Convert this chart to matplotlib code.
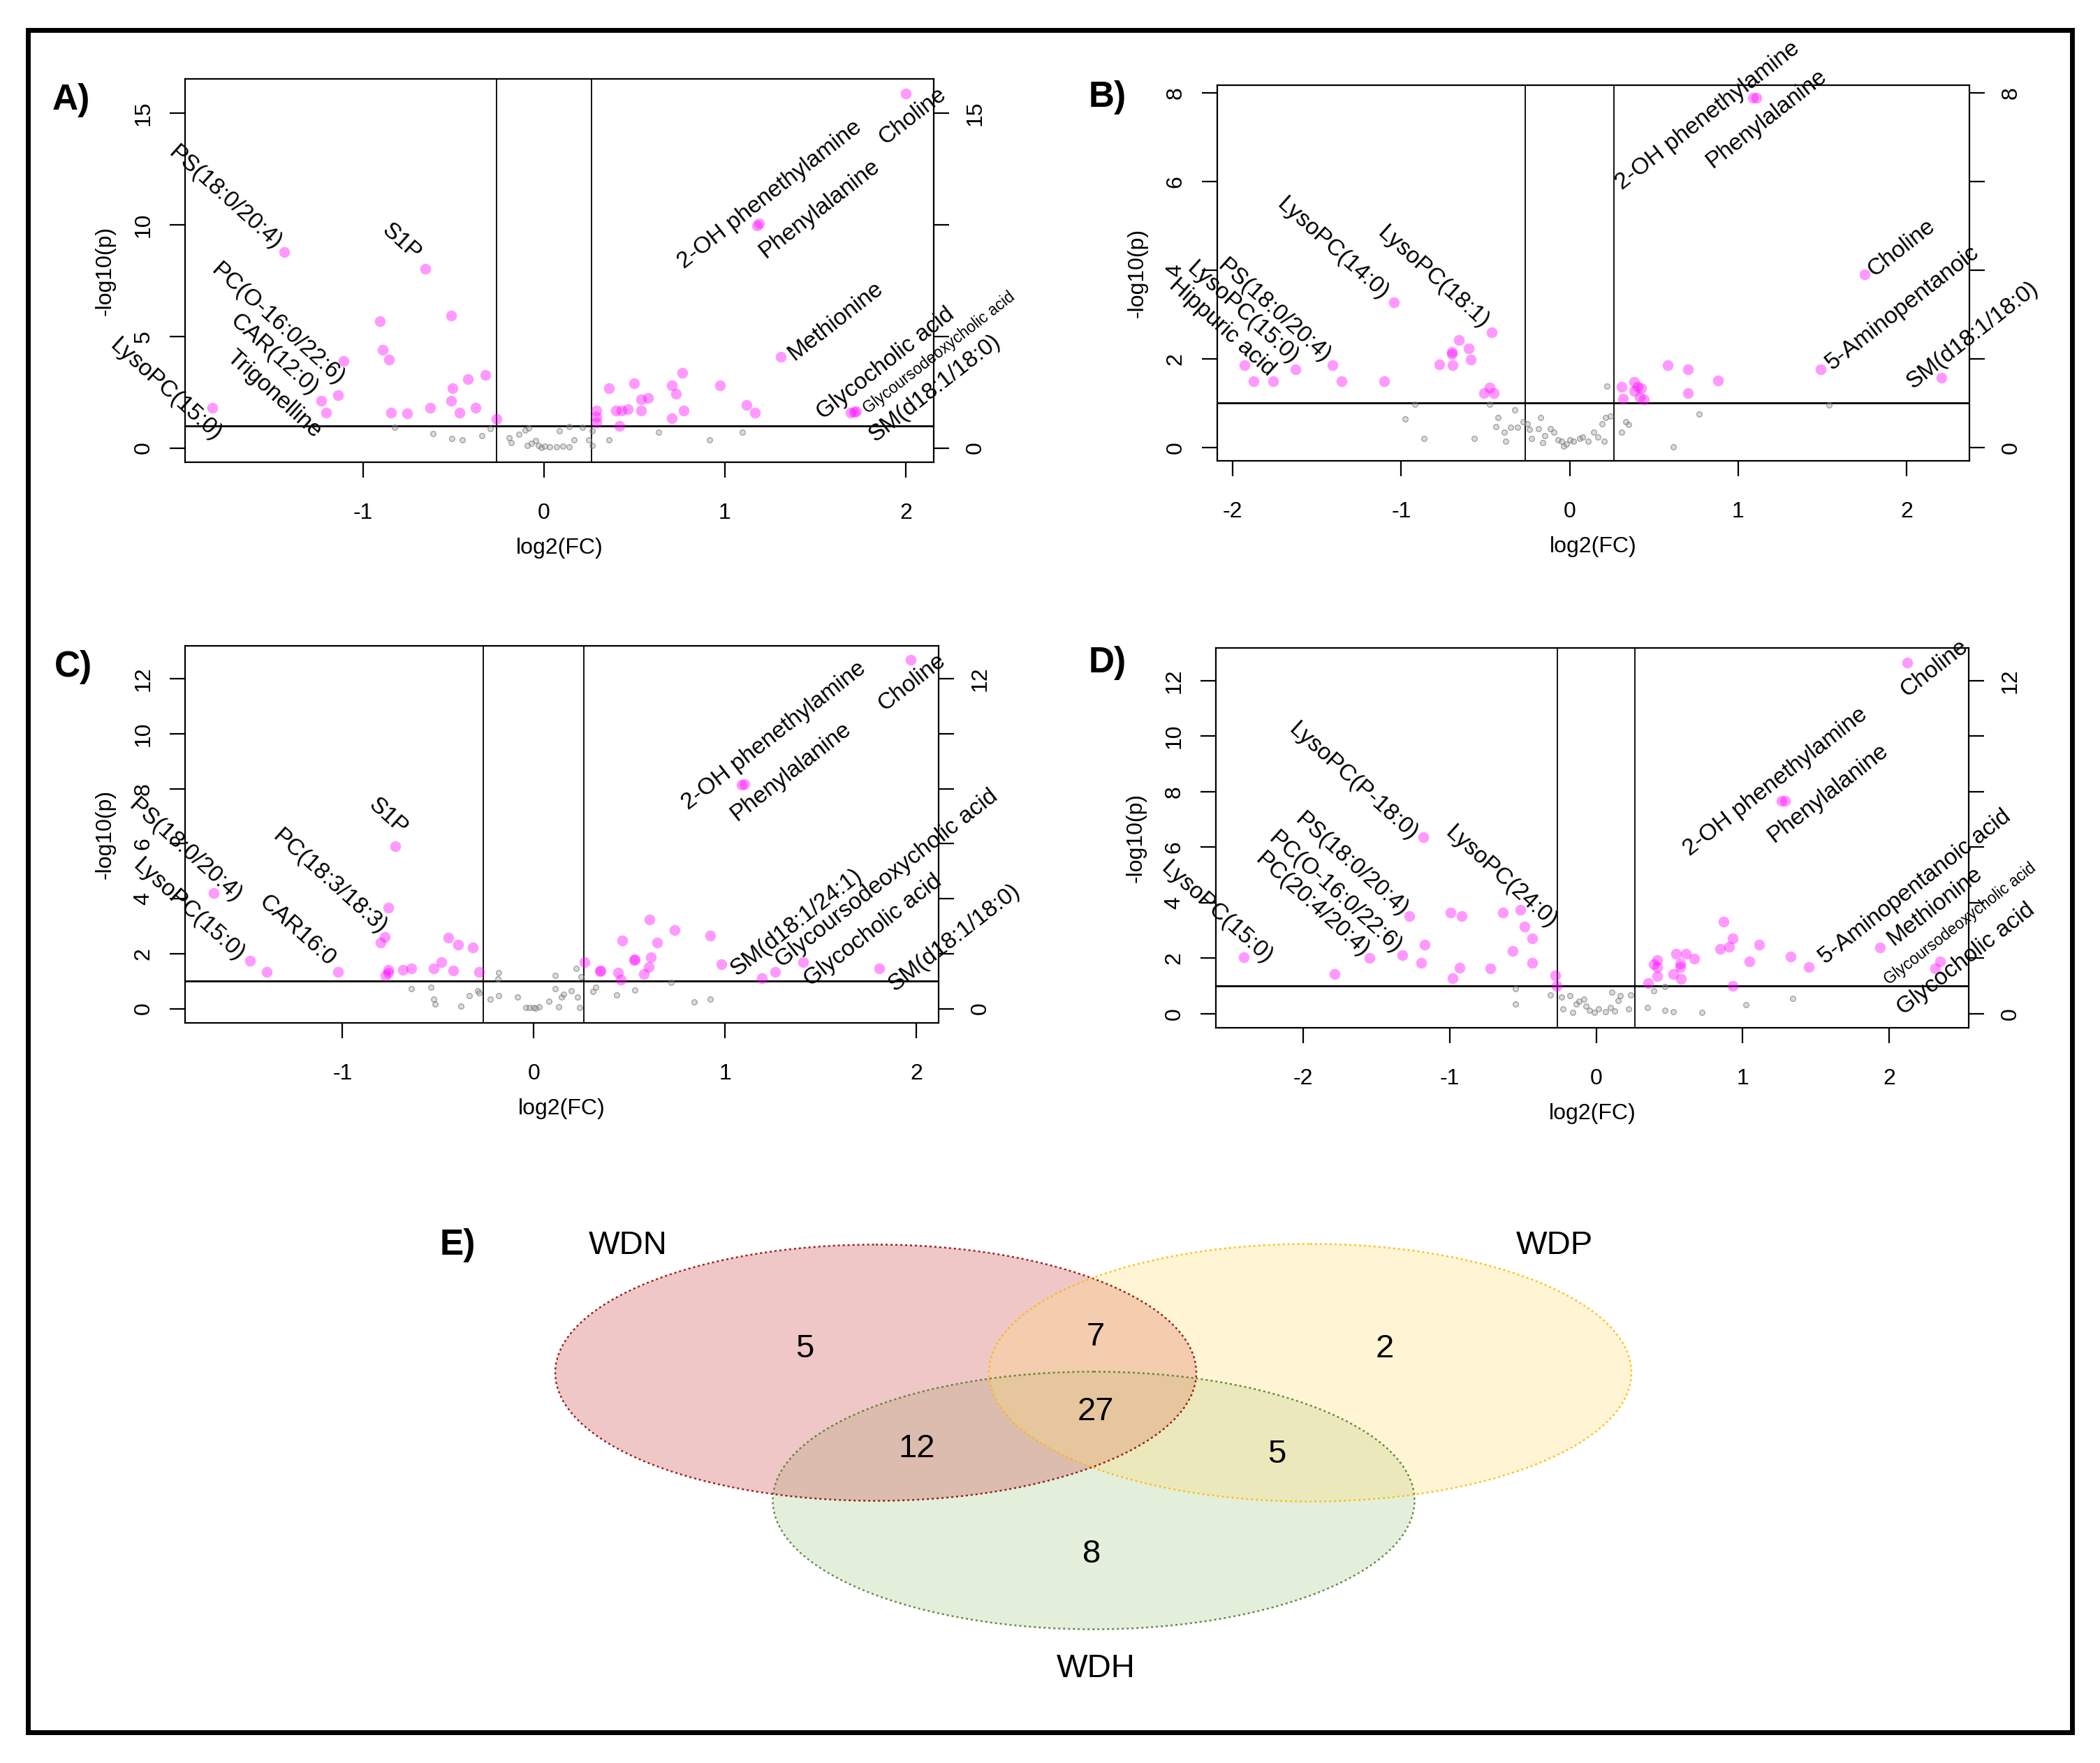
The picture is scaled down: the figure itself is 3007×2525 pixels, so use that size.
import matplotlib
matplotlib.use("Agg")
import matplotlib.pyplot as plt
from matplotlib.patches import Ellipse, Rectangle
import numpy as np

plt.rcParams['font.family'] = ['Liberation Sans', 'DejaVu Sans']

# ---------------- DATA ----------------
# Panel A
A_sig_x = [2.0, -1.435, -0.658, 1.177, 1.19, -0.909, -0.515, -0.891, -0.859, -1.109, 1.309, -0.326,
           -0.422, -0.504, -1.138, -1.231, -0.515, -0.63, -0.379, -0.469, -0.844, -0.755, -1.206,
           -1.835, -0.261, 0.766, 0.5, 0.358, 0.705, 0.73, 0.973, 0.537, 0.576, 0.465, 0.429, 0.397,
           0.537, 0.773, 0.29, 0.29, 0.29, 0.419, 0.705, 1.12, 1.166, 1.696, 1.728, 1.715]
A_sig_y = [15.87, 8.77, 8.04, 9.98, 10.06, 5.68, 5.94, 4.40, 3.97, 3.90, 4.08, 3.26,
           3.09, 2.68, 2.37, 2.12, 2.12, 1.81, 1.81, 1.57, 1.57, 1.54, 1.57,
           1.81, 1.31, 3.36, 2.91, 2.68, 2.79, 2.42, 2.79, 2.19, 2.24, 1.74, 1.69, 1.69,
           1.69, 1.69, 1.69, 1.39, 1.13, 1.0, 1.34, 1.92, 1.57, 1.57, 1.64, 1.60]
A_ns_x = [-0.826, -0.615, -0.508, -0.45, -0.343, -0.297, -0.193, -0.18, -0.14, -0.104, -0.086,
          -0.093, -0.046, -0.032, -0.014, 0.004, 0.032, 0.068, 0.104, 0.14, 0.086, 0.14, 0.165,
          0.211, 0.247, 0.265, 0.265, 0.361, 0.633, 0.916, 1.098, -0.068]
A_ns_y = [0.93, 0.65, 0.43, 0.37, 0.55, 0.85, 0.44, 0.24, 0.6, 0.81, 0.88,
          0.12, 0.32, 0.12, 0.02, 0.09, 0.06, 0.06, 0.09, 0.06, 0.78, 0.95, 0.37,
          0.93, 0.37, 0.12, 0.78, 0.37, 0.7, 0.37, 0.7, 0.21]
A_labels = ["PS(18:0/20:4)", "S1P", "PC(O-16:0/22:6)", "CAR(12:0)", "Trigonelline", "LysoPC(15:0)",
            "2-OH phenethylamine", "Phenylalanine", "Choline", "Methionine", "Glycocholic acid",
            "Glycoursodeoxycholic acid", "SM(d18:1/18:0)"]

# Panel B
B_sig_x = [1.086, 1.106, 1.75, -1.044, -0.464, -0.656, -0.599, -0.699, -0.699, -0.587, -0.775, -0.695,
           -1.931, -1.409, -1.628, -1.877, -1.762, -1.355, -1.102, -0.476, -0.507, -0.449,
           0.583, 0.702, 0.879, 0.702, 0.384, 0.307, 0.403, 0.422, 0.384, 0.315, 0.415, 0.441,
           1.489, 2.207]
B_sig_y = [7.89, 7.89, 3.90, 3.28, 2.59, 2.42, 2.24, 2.15, 2.11, 1.98, 1.87, 1.86,
           1.86, 1.86, 1.77, 1.50, 1.50, 1.50, 1.50, 1.35, 1.22, 1.22,
           1.86, 1.77, 1.51, 1.22, 1.48, 1.37, 1.37, 1.33, 1.27, 1.10, 1.14, 1.08,
           1.77, 1.58]
B_ns_x = [-0.921, -0.975, -0.864, -0.568, -0.476, -0.426, -0.438, -0.388, -0.38, -0.353, -0.326,
          -0.311, -0.276, -0.25, -0.226, -0.238, -0.184, -0.173, -0.161, -0.146, -0.115, -0.096,
          -0.069, -0.05, -0.038, -0.019, 0.0, 0.023, 0.058, 0.077, 0.107, 0.142, 0.165, 0.203,
          0.192, 0.211, 0.219, 0.242, 0.307, 0.334, 0.349, 0.614, 0.768, 1.539]
B_ns_y = [0.98, 0.64, 0.21, 0.21, 0.98, 0.67, 0.47, 0.35, 0.14, 0.45, 0.85,
          0.45, 0.58, 0.54, 0.21, 0.41, 0.43, 0.67, 0.11, 0.26, 0.43, 0.35,
          0.18, 0.14, 0.03, 0.08, 0.18, 0.14, 0.21, 0.24, 0.14, 0.35, 0.24, 0.14,
          0.54, 0.67, 1.38, 0.70, 0.34, 0.58, 0.52, 0.02, 0.75, 0.96]
B_labels = ["Hippuric acid", "LysoPC(15:0)", "PS(18:0/20:4)", "LysoPC(14:0)", "LysoPC(18:1)",
            "2-OH phenethylamine", "Phenylalanine", "Choline", "5-Aminopentanoic", "SM(d18:1/18:0)"]

# Panel C
C_sig_x = [1.972, 1.086, 1.102, -0.724, -1.674, -0.761, -0.778, -0.801, -1.485, -1.397, -1.025,
           -0.761, -0.761, -0.775, -0.683, -0.639, -0.524, -0.484, -0.419, -0.446, -0.396, -0.318,
           -0.284, 0.267, 0.345, 0.35, 0.44, 0.457, 0.463, 0.524, 0.53, 0.575, 0.602, 0.612, 0.605,
           0.646, 0.737, 0.923, 0.981, 1.194, 1.261, 1.407, 1.806]
C_sig_y = [12.68, 8.14, 8.18, 5.90, 4.21, 3.68, 2.60, 2.41, 1.73, 1.33, 1.33,
           1.42, 1.31, 1.21, 1.42, 1.46, 1.46, 1.70, 1.39, 2.57, 2.32, 2.23,
           1.33, 1.70, 1.36, 1.39, 1.31, 1.06, 2.48, 1.76, 1.80, 1.25, 1.52, 1.86, 3.24,
           2.41, 2.87, 2.65, 1.62, 1.11, 1.33, 1.70, 1.46]
C_ns_x = [-0.639, -0.538, -0.524, -0.514, -0.379, -0.338, -0.294, -0.284, -0.227, -0.183, -0.186,
          -0.183, -0.085, -0.04, -0.024, 0.0, 0.027, 0.078, 0.112, 0.112, 0.129, 0.145, 0.156,
          0.196, 0.223, 0.23, 0.24, 0.247, 0.308, 0.325, 0.433, 0.528, 0.72, 0.839, 0.923, 0.01]
C_ns_y = [0.72, 0.78, 0.35, 0.16, 0.10, 0.47, 0.65, 0.56, 0.35, 1.30, 1.09,
          0.47, 0.41, 0.04, 0.04, 0.04, 0.06, 0.28, 0.72, 1.21, 0.06, 0.43, 0.53,
          0.65, 1.46, 0.43, 0.04, 1.15, 0.63, 0.78, 0.49, 0.68, 0.96, 0.25, 0.35, 0.02]
C_labels = ["S1P", "PS(18:0/20:4)", "LysoPC(15:0)", "PC(18:3/18:3)", "CAR16:0",
            "2-OH phenethylamine", "Phenylalanine", "Choline", "SM(d18:1/24:1)",
            "Glycoursodeoxycholic acid", "Glycocholic acid", "SM(d18:1/18:0)"]

# Panel D
D_sig_x = [2.124, 1.267, 1.289, -1.179, -1.276, -0.993, -0.918, -0.636, -0.517, -0.49, -0.437,
           -0.57, -0.437, -1.17, -1.325, -1.545, -1.196, -2.406, -1.784, -0.932, -0.98, -0.724,
           -0.278, -0.269, 0.87, 0.932, 0.91, 0.848, 1.113, 1.325, 1.046, 1.453, 0.932, 0.547,
           0.614, 0.671, 0.415, 0.393, 0.415, 0.574, 0.574, 0.525, 0.578, 0.419, 0.353, 1.938,
           2.313, 2.349]
D_sig_y = [12.65, 7.67, 7.67, 6.35, 3.52, 3.64, 3.52, 3.64, 3.74, 3.13, 2.70,
           2.27, 1.83, 2.48, 2.11, 2.01, 1.83, 2.03, 1.42, 1.65, 1.28, 1.62,
           1.38, 1.01, 3.31, 2.72, 2.42, 2.33, 2.48, 2.05, 1.87, 1.68, 1.0, 2.17,
           2.17, 1.99, 1.93, 1.77, 1.68, 1.81, 1.68, 1.44, 1.26, 1.34, 1.11, 2.38,
           1.62, 1.87]
D_ns_x = [-0.552, -0.552, -0.313, -0.234, -0.181, -0.225, -0.159, -0.137, -0.115, -0.084, -0.071,
          -0.044, -0.013, 0.018, 0.062, 0.097, 0.106, 0.128, 0.15, 0.163, 0.221, 0.238, 0.349,
          0.393, 0.468, 0.468, 0.525, 0.724, 1.02, 1.342]
D_ns_y = [0.89, 0.34, 0.68, 0.59, 0.65, 0.16, 0.04, 0.34, 0.44, 0.52, 0.28,
          0.12, 0.04, 0.16, 0.07, 0.22, 0.77, 0.10, 0.46, 0.65, 0.16, 0.68, 0.22,
          0.83, 0.97, 0.12, 0.07, 0.04, 0.32, 0.55]
D_labels = ["LysoPC(P-18:0)", "PS(18:0/20:4)", "PC(O-16:0/22:6)", "PC(20:4/20:4)", "LysoPC(15:0)",
            "LysoPC(24:0)", "Choline", "2-OH phenethylamine", "Phenylalanine",
            "5-Aminopentanoic acid", "Methionine", "Glycoursodeoxycholic acid", "Glycocholic acid"]

# Venn (E)
venn_sets = ["WDN", "WDP", "WDH"]
venn_counts = {"N": 5, "P": 2, "H": 8, "NP": 7, "NH": 12, "PH": 5, "NPH": 27}

# ---------------- LAYOUT / STYLE ----------------
W, H = 3007, 2525
DPI = 100
fig = plt.figure(figsize=(W / DPI, H / DPI), dpi=DPI)

bg = fig.add_axes([0, 0, 1, 1])
bg.set_xlim(0, W)
bg.set_ylim(H, 0)
bg.axis('off')
bg.add_patch(Rectangle((40.5, 43), 2967 - 40.5, 2481 - 43, fill=False, lw=5.0, ec='black'))

# label layout: anchor (data coords) for each label, side (L: rotated down, R: rotated up), size factor
A_lab_pos = [(-1.47, 9.07, 'L', 1), (-0.70, 8.58, 'L', 1), (-1.123, 2.98, 'L', 1), (-1.266, 2.53, 'L', 1),
             (-1.249, 0.62, 'L', 1), (-1.803, 0.47, 'L', 1),
             (0.755, 8.23, 'R', 1), (1.202, 8.69, 'R', 1), (1.864, 13.79, 'R', 1), (1.363, 4.12, 'R', 1),
             (1.524, 1.46, 'R', 1), (1.775, 1.69, 'R', 0.68), (1.81, 0.47, 'R', 1)]
B_lab_pos = [(-1.766, 1.69, 'L', 1), (-1.631, 1.96, 'L', 1), (-1.44, 2.0, 'L', 1), (-1.094, 3.41, 'L', 1),
             (-0.499, 2.76, 'L', 1),
             (0.288, 5.90, 'R', 1), (0.825, 6.39, 'R', 1), (1.785, 3.95, 'R', 1), (1.536, 1.84, 'R', 1),
             (2.015, 1.42, 'R', 1)]
C_lab_pos = [(-0.676, 6.45, 'L', 1), (-1.545, 4.01, 'L', 1), (-1.529, 1.86, 'L', 1), (-0.785, 2.85, 'L', 1),
             (-1.055, 1.68, 'L', 1),
             (0.788, 7.38, 'R', 1), (1.042, 6.97, 'R', 1), (1.813, 10.99, 'R', 1), (1.042, 1.33, 'R', 1),
             (1.278, 1.64, 'R', 1), (1.43, 0.96, 'R', 1), (1.87, 0.78, 'R', 1)]
D_lab_pos = [(-1.24, 6.38, 'L', 1), (-1.307, 3.64, 'L', 1), (-1.351, 2.29, 'L', 1), (-1.572, 2.17, 'L', 1),
             (-2.234, 1.93, 'L', 1), (-0.291, 3.21, 'L', 1),
             (2.093, 11.57, 'R', 1), (0.614, 5.83, 'R', 1), (1.188, 6.32, 'R', 1), (1.541, 1.93, 'R', 1),
             (2.004, 2.60, 'R', 1), (1.982, 1.14, 'R', 0.68), (2.071, 0.10, 'R', 1)]

TICK_FS = 23
LAB_FS = 24
PINK = (1.0, 0.0, 1.0, 0.40)


def pix_rect(x0, y0, x1, y1):
    return [x0 / W, 1 - y1 / H, (x1 - x0) / W, (y1 - y0) / H]


def volcano(rect, sx, sy, nx, ny, labels, labpos, xticks, yticks, xlim, ylim, letter, letter_xy):
    ax = fig.add_axes(pix_rect(*rect))
    ax.set_xlim(*xlim)
    ax.set_ylim(*ylim)
    ax.scatter(nx, ny, s=30, facecolor=(0.6, 0.6, 0.6, 0.35), edgecolor=(0.45, 0.45, 0.45, 0.6),
               linewidths=1.0, zorder=2)
    ax.scatter(sx, sy, s=125, color=PINK, linewidths=0, zorder=3)
    ax.axvline(-np.log2(1.2), color='black', lw=1.3, zorder=1)
    ax.axvline(np.log2(1.2), color='black', lw=1.3, zorder=1)
    ax.axhline(-np.log10(0.1), color='black', lw=2.0, zorder=1)
    for sp in ax.spines.values():
        sp.set_linewidth(1.6)
    ax.set_xticks(xticks)
    ax.set_xticklabels([str(t) for t in xticks], fontsize=TICK_FS)
    ax.set_yticks(yticks)
    ax.set_yticklabels([str(t) for t in yticks], fontsize=TICK_FS, rotation=90, va='center')
    ax.tick_params(axis='x', length=16, width=1.6, pad=26)
    ax.tick_params(axis='y', length=16, width=1.6, pad=16)
    ax.set_xlabel('log2(FC)', fontsize=TICK_FS, labelpad=14)
    ax.set_ylabel('-log10(p)', fontsize=TICK_FS, labelpad=18)
    ax2 = ax.twinx()
    ax2.set_ylim(*ylim)
    ax2.set_yticks(yticks)
    ax2.set_yticklabels([str(t) if t in (yticks[0], yticks[-1]) else '' for t in yticks],
                        fontsize=TICK_FS, rotation=90, va='center')
    ax2.tick_params(axis='y', length=16, width=1.6, pad=16)
    for sp in ax2.spines.values():
        sp.set_visible(False)
    for name, (lx, ly, side, f) in zip(labels, labpos):
        if side == 'L':
            ax.text(lx, ly, name, rotation=-42, rotation_mode='anchor', ha='right', va='center',
                    fontsize=LAB_FS * f, clip_on=False, zorder=4)
        else:
            ax.text(lx, ly, name, rotation=38, rotation_mode='anchor', ha='left', va='center',
                    fontsize=LAB_FS * f, clip_on=False, zorder=4)
    bg.text(letter_xy[0], letter_xy[1], letter, fontsize=37, fontweight='bold', ha='center', va='center')
    return ax


volcano((265, 113, 1337, 662), A_sig_x, A_sig_y, A_ns_x, A_ns_y, A_labels, A_lab_pos,
        [-1, 0, 1, 2], [0, 5, 10, 15], (-1.985, 2.155), (-0.64, 16.54), 'A)', (102, 143))
volcano((1743, 122, 2820, 660), B_sig_x, B_sig_y, B_ns_x, B_ns_y, B_labels, B_lab_pos,
        [-2, -1, 0, 1, 2], [0, 2, 4, 6, 8], (-2.092, 2.372), (-0.30, 8.17), 'B)', (1586, 140))
volcano((265, 925, 1344, 1465), C_sig_x, C_sig_y, C_ns_x, C_ns_y, C_labels, C_lab_pos,
        [-1, 0, 1, 2], [0, 2, 4, 6, 8, 10, 12], (-1.823, 2.117), (-0.52, 13.2), 'C)', (105, 956))
volcano((1741, 928, 2819, 1472), D_sig_x, D_sig_y, D_ns_x, D_ns_y, D_labels, D_lab_pos,
        [-2, -1, 0, 1, 2], [0, 2, 4, 6, 8, 10, 12], (-2.596, 2.543), (-0.51, 13.18), 'D)', (1586, 950))

# ---------------- VENN ----------------
# geometry per set (WDN, WDP, WDH) in figure pixels
venn_geom = [((1254, 1966), 918, 367), ((1876, 1966), 920, 369), ((1566, 2149), 919, 369)]
venn_fill = ['#CD4848', '#FFDE76', '#A5CD8A']
venn_edge = ['#8B0000', '#FFB800', '#4E7A28']
fill_order = [2, 0, 1]  # WDH first, then WDN, then WDP
for i in fill_order:
    c, w, h = venn_geom[i]
    bg.add_patch(Ellipse(c, w, h, facecolor=venn_fill[i], alpha=0.3, edgecolor='none'))
for i in fill_order:
    c, w, h = venn_geom[i]
    bg.add_patch(Ellipse(c, w, h, facecolor='none', edgecolor=venn_edge[i], lw=1.8,
                         ls=(0, (1.2, 1.6)), alpha=0.85))

count_pos = {"N": (1152, 1932), "NP": (1569, 1915), "P": (1983, 1932), "NPH": (1569, 2022),
             "NH": (1313, 2075), "PH": (1828, 2083), "H": (1563, 2226)}
for k, v in venn_counts.items():
    bg.text(count_pos[k][0], count_pos[k][1], str(v), fontsize=34, ha='center', va='center')
set_pos = [(899, 1784), (2226, 1784), (1569, 2390)]
for name, (x, y) in zip(venn_sets, set_pos):
    bg.text(x, y, name, fontsize=34, ha='center', va='center')
bg.text(655, 1783, 'E)', fontsize=37, fontweight='bold', ha='center', va='center')

fig.savefig('out.png', dpi=DPI)
